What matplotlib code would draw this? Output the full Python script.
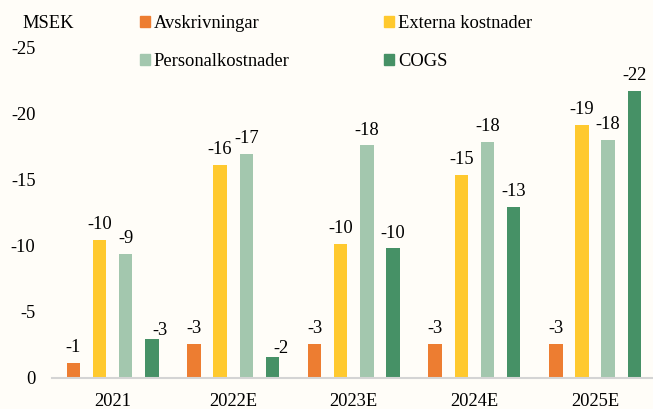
import numpy as np
import matplotlib.pyplot as plt
from matplotlib.patches import Patch

plt.rcParams['font.family'] = ['Liberation Serif', 'DejaVu Serif']

# data (MSEK)
years = ['2021', '2022E', '2023E', '2024E', '2025E']
series = ['Avskrivningar', 'Externa kostnader', 'Personalkostnader', 'COGS']
avskrivningar = [-1.1, -2.6, -2.6, -2.6, -2.6]
externa = [-10.45, -16.1, -10.15, -15.35, -19.15]
personal = [-9.4, -16.95, -17.6, -17.85, -18.05]
cogs = [-2.95, -1.6, -9.8, -12.95, -21.75]
values = [avskrivningar, externa, personal, cogs]
colors = ['#ED7D31', '#FFC92E', '#A3C7AE', '#469166']
bg = '#FFFDF8'
fs = 13.3

fig = plt.figure(figsize=(6.53, 4.09), dpi=100, facecolor=bg)
ax = fig.add_axes([0.08, 0.076, 0.92, 0.817], facecolor=bg)

x = np.arange(len(years))
pitch = 0.217
width = 0.112
for i, (vals, col) in enumerate(zip(values, colors)):
    pos = x + (i - 1.5) * pitch
    ax.bar(pos, vals, width=width, color=col, zorder=2)
    for j, (p, v) in enumerate(zip(pos, vals)):
        dx, dy = 0, 5
        # small label shifts like in the original
        if i == 3 and j in (0, 1):
            dx, dy = 6, 0
        ax.annotate(f'{round(v):d}', (p, v), xytext=(dx, dy),
                    textcoords='offset points', ha='center', va='bottom',
                    fontsize=fs)

ax.set_ylim(0, -25.3)
ax.set_xlim(-0.5, 4.48)
ax.set_yticks([0, -5, -10, -15, -20, -25])
ax.set_yticklabels(['0', '-5', '-10', '-15', '-20', '-25'])
ax.set_xticks(x)
ax.set_xticklabels(years)
ax.tick_params(length=0, labelsize=fs)
ax.tick_params(axis='x', pad=11)
ax.tick_params(axis='y', pad=12)
for s in ['top', 'right', 'left']:
    ax.spines[s].set_visible(False)
ax.spines['bottom'].set_color('#D4D4D4')
ax.spines['bottom'].set_linewidth(1.5)
ax.spines['bottom'].set_zorder(3)

fig.text(0.035, 0.942, 'MSEK', fontsize=fs, va='center')
handles = [Patch(color=c, label=l) for c, l in zip(colors, series)]
# two legend columns placed separately
for k, xa in enumerate([0.214, 0.588]):
    fig.legend(handles=[handles[k], handles[k + 2]], loc='upper left',
               bbox_to_anchor=(xa, 0.963), frameon=False, fontsize=fs,
               borderpad=0, borderaxespad=0,
               handlelength=0.55, handleheight=0.55, handletextpad=0.2,
               labelspacing=1.12)

fig.savefig('out.png', dpi=100, facecolor=bg)
